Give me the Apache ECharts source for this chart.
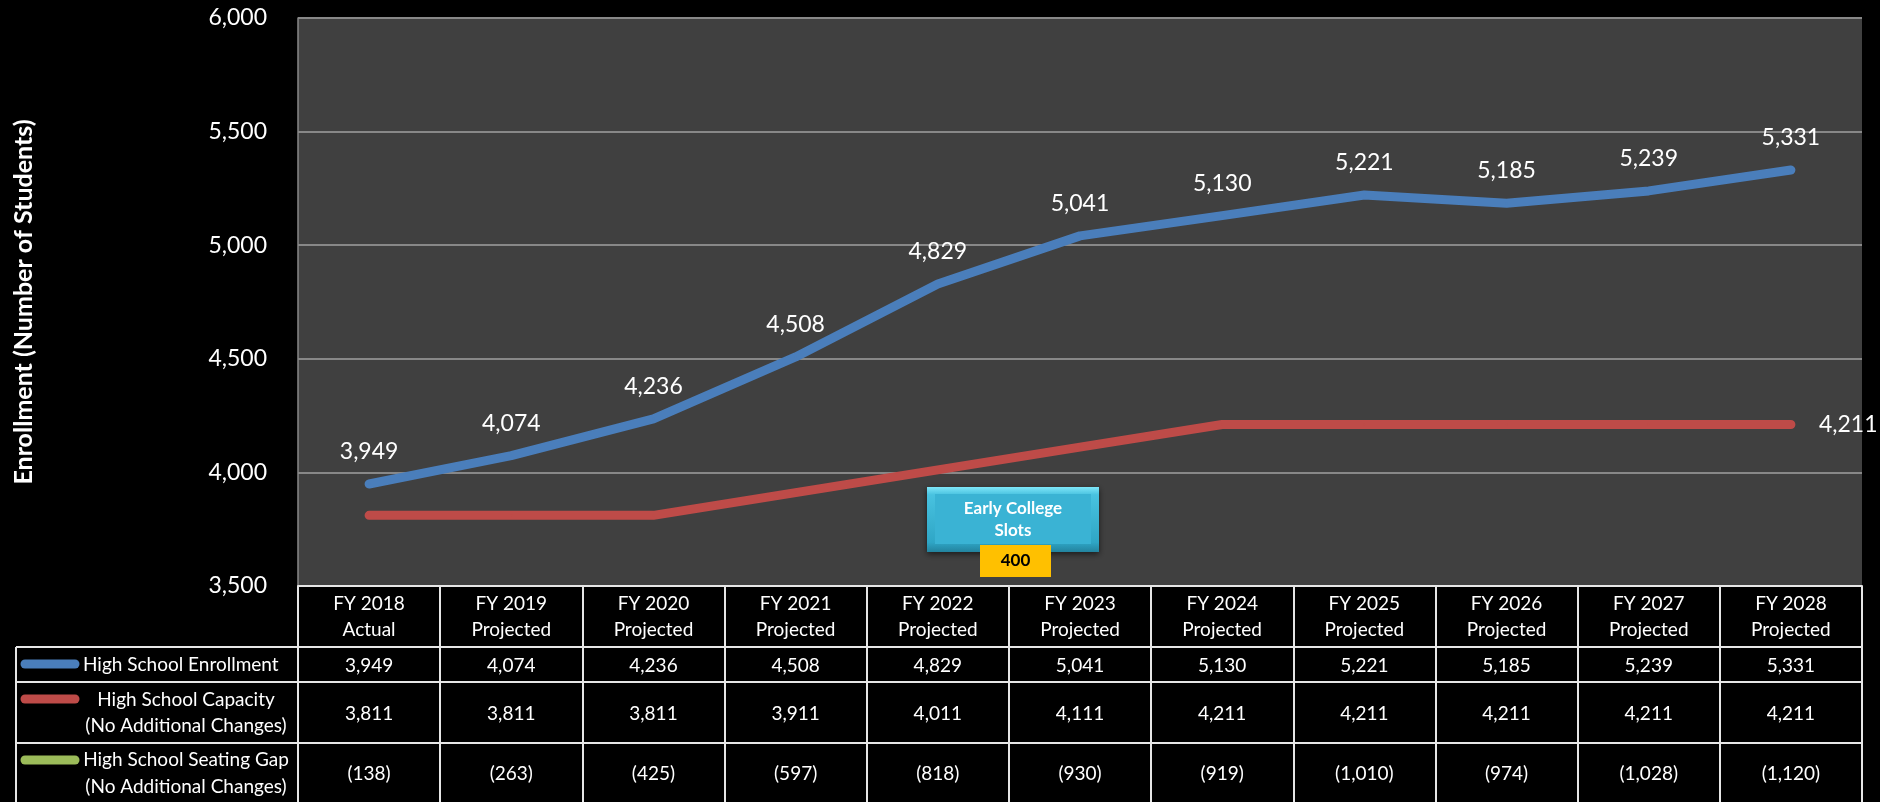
<!DOCTYPE html>
<html>
<head>
<meta charset="utf-8">
<script src="https://cdn.jsdelivr.net/npm/echarts@6/dist/echarts.min.js"></script>
<style>
  html, body { margin: 0; padding: 0; background: #000; }
  #chart { width: 1880px; height: 802px; }
</style>
</head>
<body>
<div id="chart"></div>
<script>
// data
const categories = [
  "FY 2018\nActual", "FY 2019\nProjected", "FY 2020\nProjected", "FY 2021\nProjected",
  "FY 2022\nProjected", "FY 2023\nProjected", "FY 2024\nProjected", "FY 2025\nProjected",
  "FY 2026\nProjected", "FY 2027\nProjected", "FY 2028\nProjected"
]
const enrollment = [3949, 4074, 4236, 4508, 4829, 5041, 5130, 5221, 5185, 5239, 5331]
const capacity = [3811, 3811, 3811, 3911, 4011, 4111, 4211, 4211, 4211, 4211, 4211]
const seatingGap = [-138, -263, -425, -597, -818, -930, -919, -1010, -974, -1028, -1120]
const earlyCollegeSlots = 400

const FONT = "Lato"
const BLUE = "#4a7ebb"
const RED = "#be4b48"
const GREEN = "#9bbb59"
const TABLE_LINE = "#e6e6e6"

const fmt = (v) => v.toLocaleString("en-US")
const fmtGap = (v) => (v < 0 ? "(" + fmt(-v) + ")" : fmt(v))

// layout of the data table under the plot
const tableLeft = 16
const rowTops = [647, 682, 743, 802]

const chart = echarts.init(document.getElementById("chart"))

const option = {
  backgroundColor: "#000",
  animation: false,
  grid: {
    left: 298,
    right: 18,
    top: 18,
    bottom: 216,
    show: true,
    backgroundColor: "#404040",
    borderWidth: 0
  },
  xAxis: {
    type: "category",
    data: categories,
    boundaryGap: true,
    axisLine: { lineStyle: { color: TABLE_LINE, width: 2 } },
    axisTick: { show: true, length: 216, lineStyle: { color: TABLE_LINE, width: 2 } },
    axisLabel: {
      color: "#fff",
      fontFamily: FONT,
      fontSize: 19,
      lineHeight: 26,
      margin: 5,
      interval: 0
    }
  },
  yAxis: {
    type: "value",
    min: 3500,
    max: 6000,
    interval: 500,
    name: "Enrollment (Number of Students)",
    nameLocation: "middle",
    nameRotate: 90,
    nameGap: 262,
    nameTextStyle: { color: "#fff", fontFamily: FONT, fontWeight: "bold", fontSize: 25 },
    axisLine: { show: true, lineStyle: { color: "#888", width: 1.5 } },
    axisTick: { show: false },
    axisLabel: {
      color: "#fff",
      fontFamily: FONT,
      fontSize: 23,
      margin: 31,
      formatter: (v) => fmt(v)
    },
    splitLine: { lineStyle: { color: "#888", width: 2 } }
  },
  series: [
    {
      name: "High School Enrollment",
      type: "line",
      data: enrollment,
      symbol: "circle",
      symbolSize: 2,
      itemStyle: { color: BLUE },
      lineStyle: { color: BLUE, width: 9, cap: "round", join: "round" },
      label: {
        show: true,
        position: "top",
        distance: 20,
        color: "#fff",
        fontFamily: FONT,
        fontSize: 23,
        formatter: (p) => fmt(p.value)
      },
      z: 3
    },
    {
      name: "High School Capacity",
      type: "line",
      data: capacity.map((v, i) =>
        i === capacity.length - 1 ? { value: v, label: { show: true } } : v
      ),
      symbol: "circle",
      symbolSize: 2,
      itemStyle: { color: RED },
      lineStyle: { color: RED, width: 9, cap: "round", join: "round" },
      label: {
        show: false,
        position: "right",
        distance: 27,
        color: "#fff",
        fontFamily: FONT,
        fontSize: 23,
        formatter: (p) => fmt(p.value)
      },
      z: 2
    }
  ]
}

chart.setOption(option)

// build the data table and the callout
const g = []
const hLine = (x1, x2, y) => g.push({
  type: "line", shape: { x1, y1: y, x2, y2: y },
  style: { stroke: TABLE_LINE, lineWidth: 2 }, silent: true
})
const text = (x, y, s, extra) => g.push({
  type: "text", x, y, silent: true,
  style: Object.assign({
    text: s, fill: "#fff", font: "19px " + FONT,
    align: "center", verticalAlign: "middle"
  }, extra || {})
})
const keyLine = (y, color) => g.push({
  type: "line", shape: { x1: 25, y1: y, x2: 75, y2: y },
  style: { stroke: color, lineWidth: 9, lineCap: "round" }, silent: true
})

const plotRight = chart.convertToPixel({ xAxisIndex: 0 }, categories.length - 1) +
  (chart.convertToPixel({ xAxisIndex: 0 }, 1) - chart.convertToPixel({ xAxisIndex: 0 }, 0)) / 2

rowTops.slice(0, 3).forEach((y) => hLine(tableLeft, plotRight, y))
g.push({
  type: "line", shape: { x1: tableLeft, y1: rowTops[0], x2: tableLeft, y2: 802 },
  style: { stroke: TABLE_LINE, lineWidth: 2 }, silent: true
})

const rows = [enrollment.map(fmt), capacity.map(fmt), seatingGap.map(fmtGap)]
rows.forEach((vals, r) => {
  const cy = (rowTops[r] + rowTops[r + 1]) / 2 + 1
  vals.forEach((s, i) => {
    text(chart.convertToPixel({ xAxisIndex: 0 }, i), cy, s)
  })
})

// legend column
keyLine(664, BLUE)
text(83, 665, "High School Enrollment", { align: "left" })
keyLine(699, RED)
text(186, 700, "High School Capacity")
text(186, 726, "(No Additional Changes)")
keyLine(760, GREEN)
text(186, 760, "High School Seating Gap")
text(186, 787, "(No Additional Changes)")

// "Early College Slots" callout
g.push({
  type: "rect", silent: true,
  shape: { x: 927, y: 487, width: 172, height: 65 },
  style: {
    fill: new echarts.graphic.LinearGradient(0, 0, 0, 1, [
      { offset: 0, color: "#7fe6f8" },
      { offset: 0.12, color: "#48c2e0" },
      { offset: 0.85, color: "#2fa6c6" },
      { offset: 1, color: "#23839e" }
    ]),
    shadowBlur: 6, shadowColor: "rgba(0,0,0,0.6)", shadowOffsetY: 2
  }
})
g.push({
  type: "rect", silent: true,
  shape: { x: 935, y: 494, width: 156, height: 50 },
  style: { fill: "#3ab3d4" }
})
text(1013, 509, "Early College", { font: "bold 17px " + FONT })
text(1013, 531, "Slots", { font: "bold 17px " + FONT })
g.push({
  type: "rect", silent: true,
  shape: { x: 980, y: 545, width: 71, height: 32 },
  style: { fill: "#ffc000" }
})
text(1015.5, 561, fmt(earlyCollegeSlots), { font: "bold 17px " + FONT, fill: "#000" })

chart.setOption({ graphic: g })

window.addEventListener("resize", () => chart.resize())
</script>
</body>
</html>
